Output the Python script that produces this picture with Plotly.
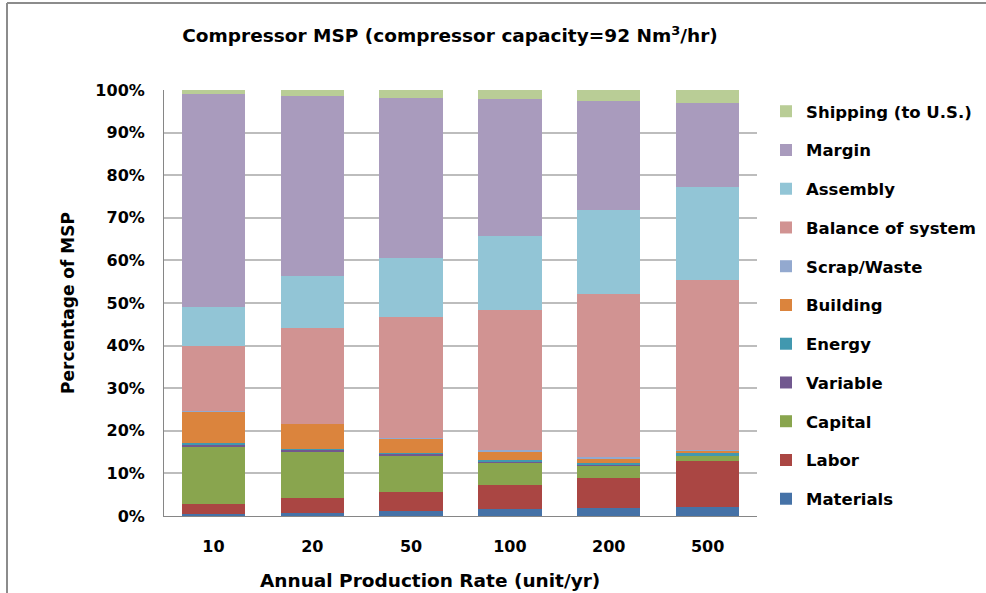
import plotly.graph_objects as go

# Annual production rates (x categories)
rates = ["10", "20", "50", "100", "200", "500"]

# Cost share of the compressor MSP, percent, per production rate
materials = [0.55, 0.8, 1.2, 1.65, 1.8, 2.1]
labor = [2.2, 3.4, 4.45, 5.65, 7.1, 10.7]
capital = [13.55, 10.9, 8.45, 5.25, 2.9, 1.3]
variable = [0.6, 0.5, 0.6, 0.15, 0.1, 0.1]
energy = [0.2, 0.2, 0.2, 0.5, 0.6, 0.55]
building = [7.4, 5.8, 3.3, 1.9, 1.1, 0.7]
scrap = [0.1, 0.1, 0.1, 0.4, 0.3, 0.1]
balance = [15.25, 22.5, 28.4, 32.9, 38.2, 39.75]
assembly = [9.25, 12.1, 13.9, 17.3, 19.7, 21.95]
margin = [50.0, 42.3, 37.5, 32.2, 25.7, 19.75]
shipping = [0.9, 1.3, 1.8, 2.1, 2.5, 3.0]

series = [
    ("Materials", materials, "#4572A7"),
    ("Labor", labor, "#AA4643"),
    ("Capital", capital, "#89A54E"),
    ("Variable", variable, "#71588F"),
    ("Energy", energy, "#4198AF"),
    ("Building", building, "#DB843D"),
    ("Scrap/Waste", scrap, "#93A9CF"),
    ("Balance of system", balance, "#D19392"),
    ("Assembly", assembly, "#92C5D6"),
    ("Margin", margin, "#A99BBD"),
    ("Shipping (to U.S.)", shipping, "#B9CD96"),
]

fig = go.Figure()
for i, (name, vals, color) in enumerate(series):
    fig.add_trace(go.Bar(
        x=rates, y=vals, name="<b>%s</b>" % name, legendgroup=name,
        legendrank=1000 - i,
        marker=dict(color=color, line=dict(width=0)),
        hovertemplate="%{x}: %{y:.1f}%<extra>" + name + "</extra>",
    ))

W, H = 986, 593
L, R, T, B = 164, 229, 90, 77
pw, ph = W - L - R, H - T - B

font = "DejaVu Sans, Liberation Sans, Arial, sans-serif"

fig.update_layout(
    width=W, height=H,
    margin=dict(l=L, r=R, t=T, b=B, autoexpand=False),
    barmode="stack",
    bargap=0.36,
    plot_bgcolor="white",
    paper_bgcolor="white",
    font=dict(family=font, color="black"),
    title=dict(
        text="<b>Compressor MSP (compressor capacity=92 Nm<sup>3</sup>/hr)</b>",
        x=450 / W, xanchor="center", y=1 - 36 / H, yanchor="middle",
        font=dict(size=18.5, family=font),
    ),
    xaxis=dict(
        tickfont=dict(size=16),
        tickprefix="<b>", ticksuffix="</b>",
        showline=True, linecolor="#868686", linewidth=1,
        ticks="", showgrid=False, ticklabelstandoff=16,
    ),
    yaxis=dict(
        title=dict(text="<b>Percentage of MSP</b>", font=dict(size=17), standoff=16),
        range=[0, 100], tickvals=list(range(0, 101, 10)),
        ticktext=["<b>%d%%</b>" % v for v in range(0, 101, 10)],
        tickfont=dict(size=16),
        showline=True, linecolor="#868686", linewidth=1,
        showgrid=True, gridcolor="#BDBDBD", gridwidth=1.5,
        ticks="", zeroline=False, ticklabelstandoff=15,
    ),
    legend=dict(
        traceorder="grouped",
        tracegroupgap=14.3,
        x=1 + 9 / pw, xanchor="left",
        y=1 - 4 / ph, yanchor="top",
        font=dict(size=16.5, family=font),
        bgcolor="rgba(0,0,0,0)",
        maxheight=560,
    ),
    showlegend=True,
)

# X-axis title, placed as an annotation centred under the bars
fig.add_annotation(
    text="<b>Annual Production Rate (unit/yr)</b>",
    xref="paper", yref="paper",
    x=(430 - L) / pw, y=-(580 - (H - B)) / ph,
    xanchor="center", yanchor="middle", showarrow=False,
    font=dict(size=18.5, family=font, color="black"),
)

# Chart-area frame along the top and left edges
fig.add_shape(type="line", xref="paper", yref="paper",
              x0=(7 - L) / pw, x1=(W - L) / pw,
              y0=1 + (T - 3) / ph, y1=1 + (T - 3) / ph,
              line=dict(color="#8C8C8C", width=2))
fig.add_shape(type="line", xref="paper", yref="paper",
              x0=(7 - L) / pw, x1=(7 - L) / pw,
              y0=1 + (T - 3) / ph, y1=-B / ph,
              line=dict(color="#8C8C8C", width=2))

fig.write_html("out.html")
